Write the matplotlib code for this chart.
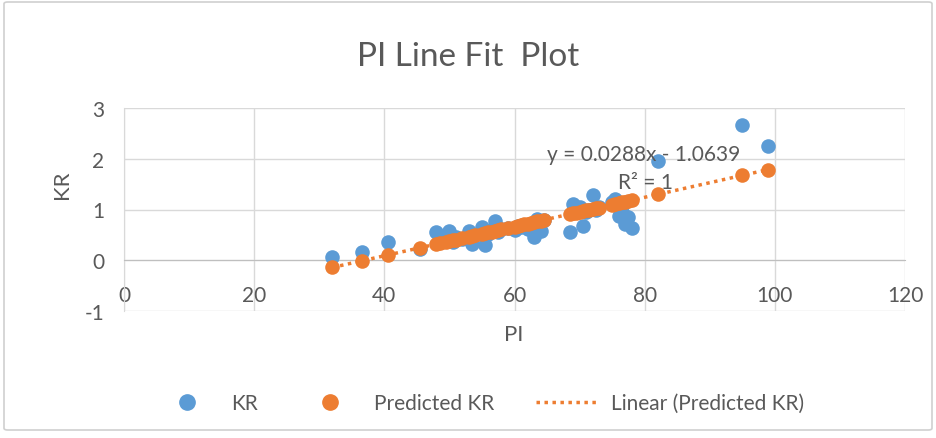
import matplotlib
matplotlib.use("Agg")
import matplotlib.pyplot as plt
from matplotlib.lines import Line2D
from matplotlib.patches import FancyBboxPatch
import numpy as np

# PI / KR observations
pi_values = [32, 36.5, 40.5, 45.5, 48, 48.5, 49.5, 50, 50.5, 51, 52, 53, 53.5,
             54, 55, 55.5, 56, 56.5, 57, 57.5, 58, 59, 60, 60.5, 61, 61.5, 62,
             62.5, 63, 63.5, 64, 64.5, 68.5, 69, 69.5, 70, 70.5, 71, 71.5, 72,
             72.5, 73, 75, 75.5, 76, 76.5, 77, 77.5, 78, 82, 95, 99]
kr_values = [0.06, 0.17, 0.35, 0.22, 0.55, 0.42, 0.38, 0.58, 0.35, 0.45, 0.42,
             0.58, 0.33, 0.50, 0.65, 0.30, 0.52, 0.60, 0.78, 0.55, 0.62, 0.64,
             0.60, 0.68, 0.65, 0.70, 0.62, 0.72, 0.45, 0.82, 0.58, 0.80, 0.56,
             1.10, 0.95, 1.05, 0.68, 0.95, 1.00, 1.28, 1.00, 1.05, 1.15, 1.20,
             0.88, 0.95, 0.72, 0.85, 0.64, 1.95, 2.66, 2.26]

# regression coefficients
slope = 0.0288
intercept = -1.0639

x_ticks = [0, 20, 40, 60, 80, 100, 120]
y_ticks = [-1, 0, 1, 2, 3]

blue = "#5B9BD5"
orange = "#ED7D31"
txt = "#595959"
grid = "#D9D9D9"

plt.rcParams["font.family"] = ["Lato", "DejaVu Sans"]
plt.rcParams["axes.unicode_minus"] = False

pi = np.array(pi_values)
kr = np.array(kr_values)
predicted = slope * pi + intercept

W, H = 937, 439
fig = plt.figure(figsize=(W / 100, H / 100), dpi=100)
# chart border
fig.patches.append(FancyBboxPatch((4 / W, 8 / H), 928 / W, 428 / H,
                                  boxstyle="round,pad=0,rounding_size=0.004",
                                  transform=fig.transFigure, fc="none",
                                  ec="#D0D0D0", lw=1.2, zorder=-1))

ax = fig.add_axes([124 / W, 1 - 312 / H, (905 - 124) / W, (312 - 109) / H])
ax.set_xlim(0, 120)
ax.set_ylim(-1, 3)
ax.set_xticks(x_ticks)
ax.set_yticks(y_ticks)
ax.grid(True, color=grid, lw=1)
ax.set_axisbelow(True)
for s in ["top", "right"]:
    ax.spines[s].set_visible(False)
ax.spines["left"].set_color(grid)
ax.spines["bottom"].set_color("#BFBFBF")
ax.spines["bottom"].set_position(("data", 0))
ax.tick_params(length=0, labelsize=15, labelcolor=txt)
ax.tick_params(axis="x", pad=18)
ax.tick_params(axis="y", pad=14)

ax.scatter(pi, kr, s=110, color=blue, zorder=3, linewidths=0)
ax.scatter(pi, predicted, s=110, color=orange, zorder=4, linewidths=0)

# trendline of the predicted values
coef = np.polyfit(pi, predicted, 1)
xs = np.array([pi.min(), pi.max()])
ax.plot(xs, np.polyval(coef, xs), color=orange, lw=2.5, ls=(0, (1, 1.3)), zorder=5)

ax.text(644 / W, 1 - 155 / H, "y = %.4fx - %.4f" % (slope, -intercept),
        transform=fig.transFigure, ha="center", va="center", fontsize=15, color=txt, zorder=6)
ax.text(645 / W, 1 - 183 / H, "R² = 1", transform=fig.transFigure,
        ha="center", va="center", fontsize=15, color=txt, zorder=6)

fig.text(0.5, 1 - 57 / H, "PI Line Fit  Plot", ha="center", va="center",
         fontsize=24, color=txt)
fig.text(514 / W, 1 - 335 / H, "PI", ha="center", va="center", fontsize=16, color=txt)
fig.text(62 / W, 1 - 185 / H, "KR", ha="center", va="center", fontsize=16,
         color=txt, rotation=90)

handles = [
    Line2D([], [], ls="none", marker="o", ms=11, color=blue, mec=blue),
    Line2D([], [], ls="none", marker="o", ms=11, color=orange, mec=orange),
    Line2D([], [], color=orange, lw=2.5, ls=(0, (1, 1.3))),
]
fig.legend(handles, ["KR", "Predicted KR", "Linear (Predicted KR)"],
           loc="center", bbox_to_anchor=(480 / W, 1 - 404 / H), ncol=3,
           frameon=False, fontsize=15, labelcolor=txt, columnspacing=2.0,
           handlelength=3.0, handletextpad=0.6)

fig.savefig("out.png", dpi=100)
